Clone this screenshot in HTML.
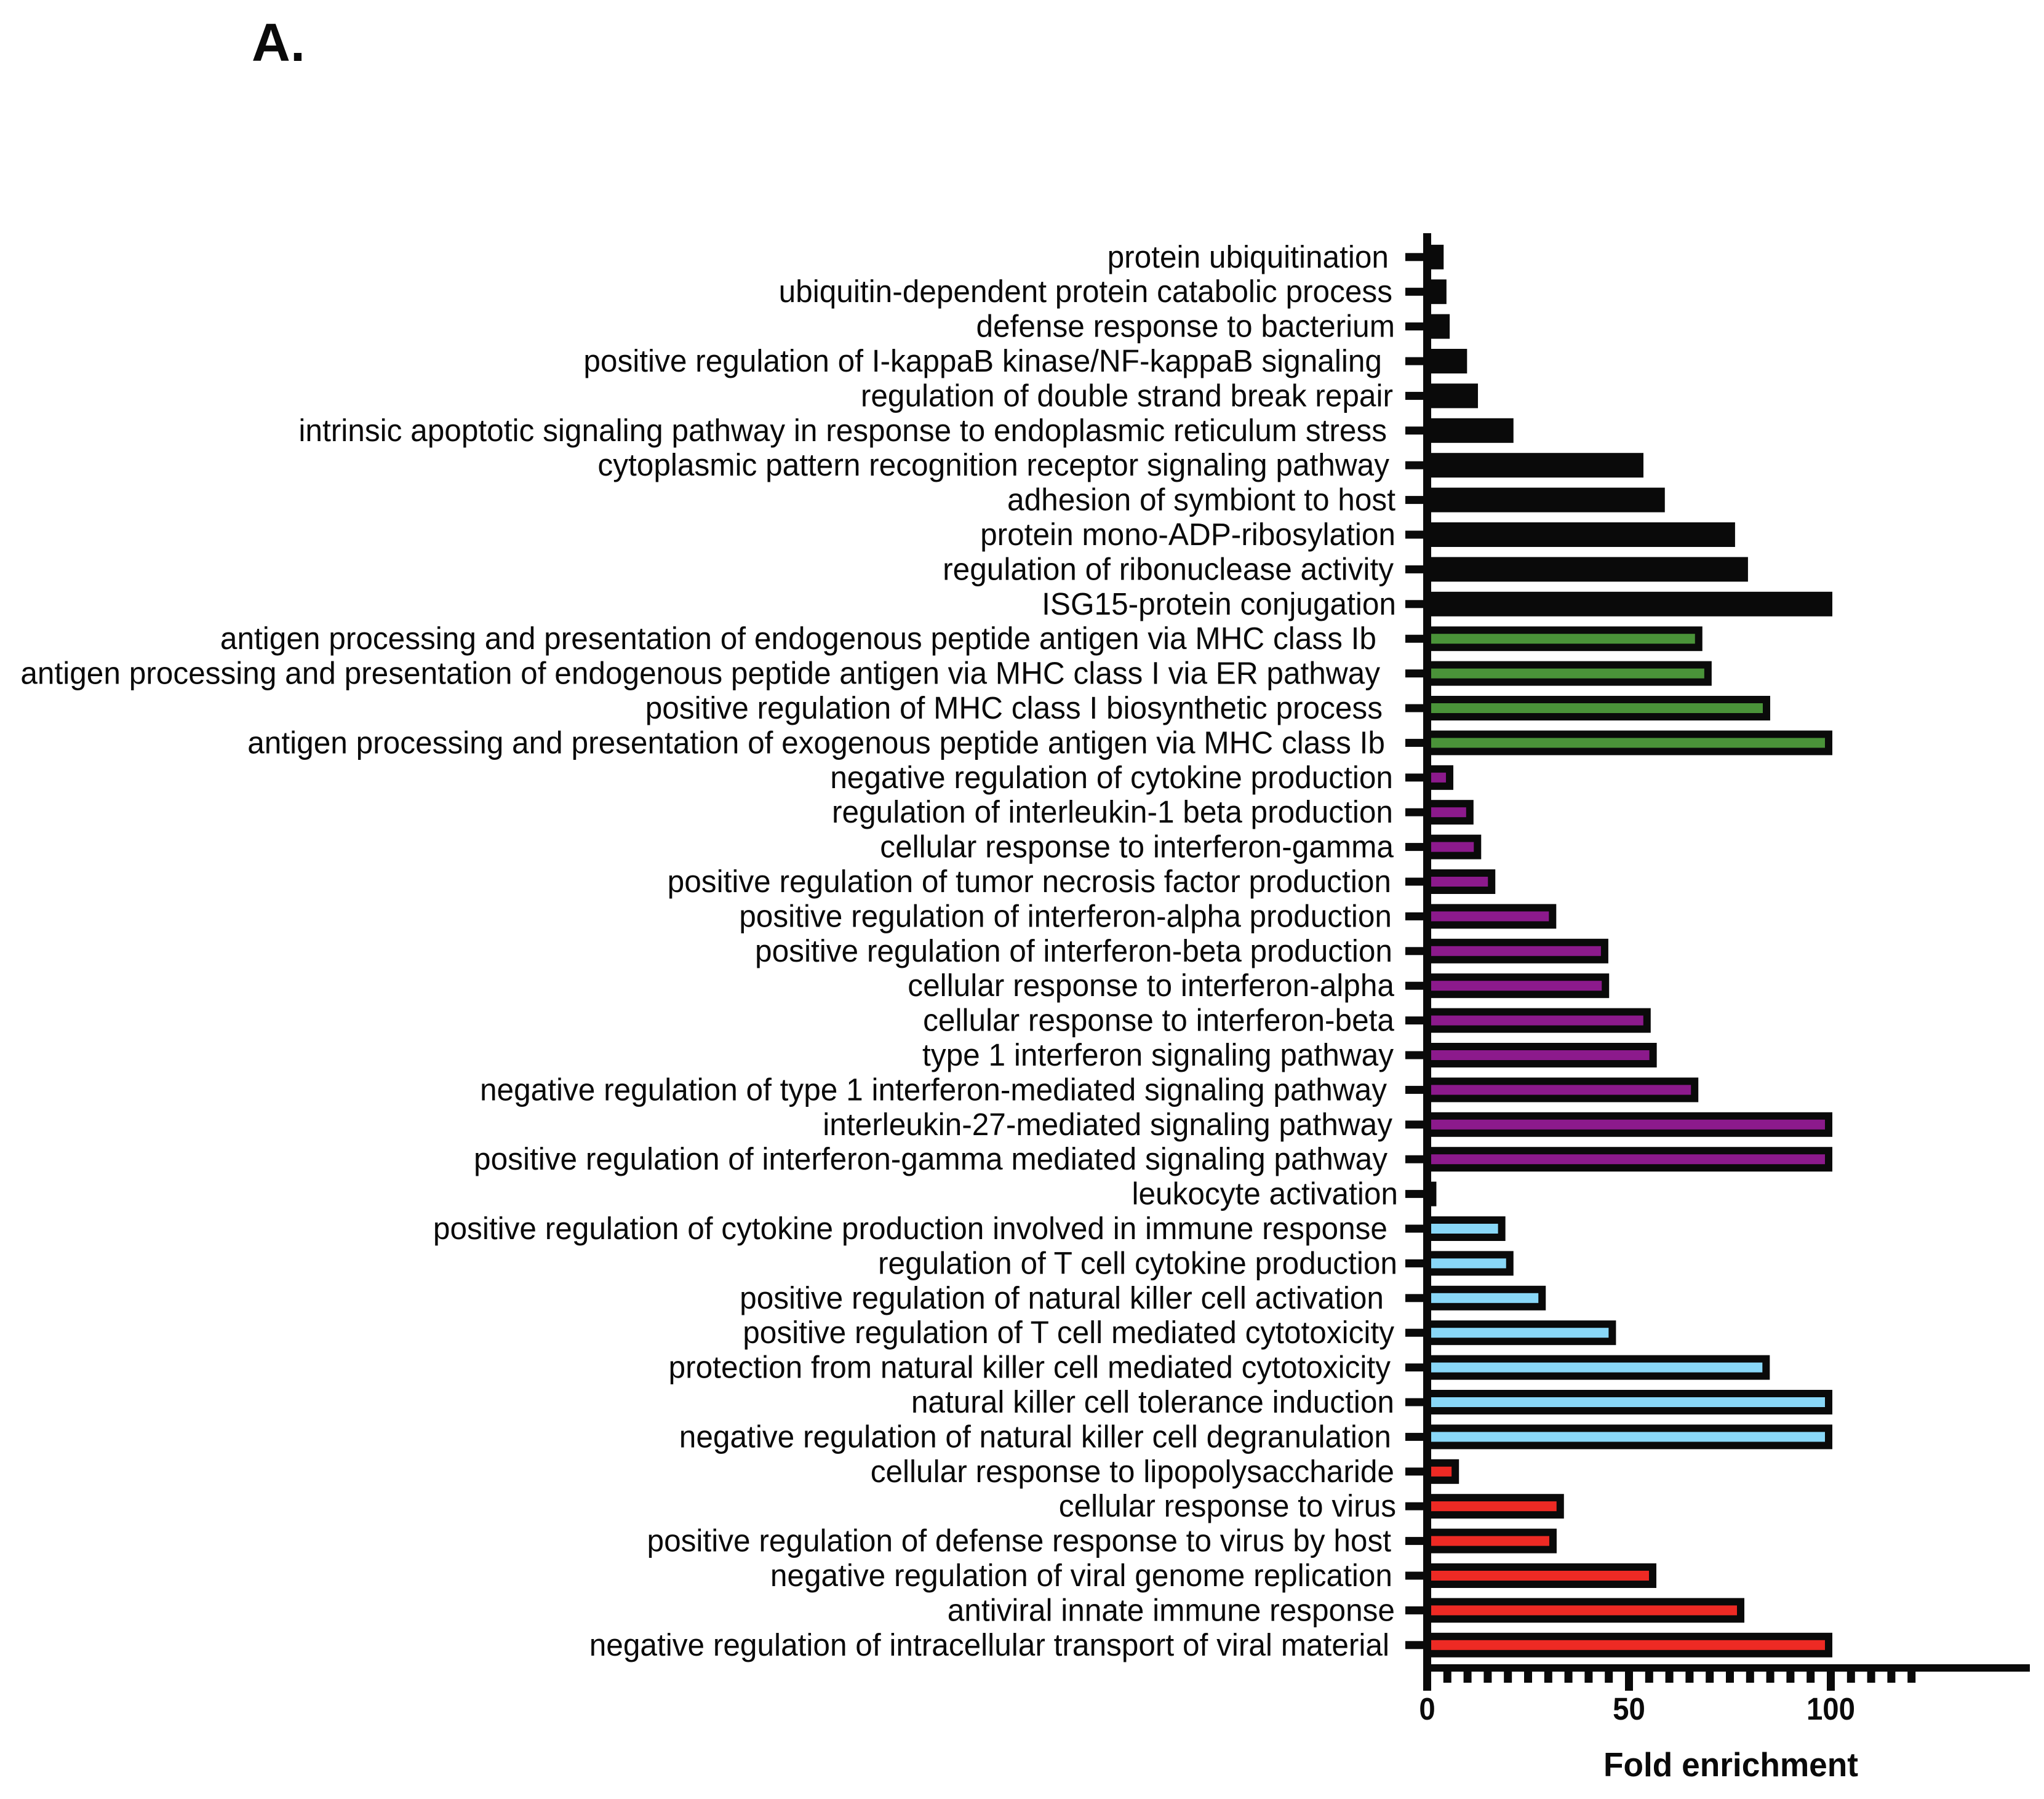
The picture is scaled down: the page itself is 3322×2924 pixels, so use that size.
<!DOCTYPE html>
<html lang="en">
<head>
<meta charset="utf-8">
<title>Fold enrichment of GO terms</title>
<style>
html,body{margin:0;padding:0;background:#fff;}
svg{display:block;}
text{font-family:"Liberation Sans",Arial,sans-serif;fill:#0a0a0a;}
</style>
</head>
<body>
<svg id="chart" xmlns="http://www.w3.org/2000/svg" width="3322" height="2924" viewBox="0 0 3322 2924">
<rect x="0" y="0" width="3322" height="2924" fill="#ffffff"/>
<text x="409" y="99" font-size="87" font-weight="700">A.</text>
<text x="2606" y="2887" font-size="55" font-weight="700" textLength="414" lengthAdjust="spacingAndGlyphs">Fold enrichment</text>
<g id="bars"></g>
<g id="axes"></g>
<g id="labels"></g>
</svg>
<script>
const categories = [
"protein ubiquitination",
"ubiquitin-dependent protein catabolic process",
"defense response to bacterium",
"positive regulation of I-kappaB kinase/NF-kappaB signaling",
"regulation of double strand break repair",
"intrinsic apoptotic signaling pathway in response to endoplasmic reticulum stress",
"cytoplasmic pattern recognition receptor signaling pathway",
"adhesion of symbiont to host",
"protein mono-ADP-ribosylation",
"regulation of ribonuclease activity",
"ISG15-protein conjugation",
"antigen processing and presentation of endogenous peptide antigen via MHC class Ib",
"antigen processing and presentation of endogenous peptide antigen via MHC class I via ER pathway",
"positive regulation of MHC class I biosynthetic process",
"antigen processing and presentation of exogenous peptide antigen via MHC class Ib",
"negative regulation of cytokine production",
"regulation of interleukin-1 beta production",
"cellular response to interferon-gamma",
"positive regulation of tumor necrosis factor production",
"positive regulation of interferon-alpha production",
"positive regulation of interferon-beta production",
"cellular response to interferon-alpha",
"cellular response to interferon-beta",
"type 1 interferon signaling pathway",
"negative regulation of type 1 interferon-mediated signaling pathway",
"interleukin-27-mediated signaling pathway",
"positive regulation of interferon-gamma mediated signaling pathway",
"leukocyte activation",
"positive regulation of cytokine production involved in immune response",
"regulation of T cell cytokine production",
"positive regulation of natural killer cell activation",
"positive regulation of T cell mediated cytotoxicity",
"protection from natural killer cell mediated cytotoxicity",
"natural killer cell tolerance induction",
"negative regulation of natural killer cell degranulation",
"cellular response to lipopolysaccharide",
"cellular response to virus",
"positive regulation of defense response to virus by host",
"negative regulation of viral genome replication",
"antiviral innate immune response",
"negative regulation of intracellular transport of viral material"
];
const foldEnrichment = [
3.7,4.4,5.2,9.5,12.2,21,53.2,58.5,75.9,79.1,100,
67.8,70.1,84.6,100,
6.1,11.1,13,16.5,31.6,44.5,44.7,55,56.5,66.8,100,100,
1.9,
19,21,29,46.4,84.5,100,100,
7.5,33.5,31.7,56.4,78.2,100
];
const groups = [
"black","black","black","black","black","black","black","black","black","black","black",
"green","green","green","green",
"purple","purple","purple","purple","purple","purple","purple","purple","purple","purple","purple","purple",
"black",
"blue","blue","blue","blue","blue","blue","blue",
"red","red","red","red","red","red"
];
const majorTicks = [0,50,100];
const minorTicks = [5,10,15,20,25,30,35,40,45,55,60,65,70,75,80,85,90,95,105,110,115,120];

/* Layout only: the reference's hand-placed label text ends are not aligned, so each
   label gets its own right-hand text anchor. */
const labelAnchors = [
2257,2263,2267,2246,2264,2254,2258,2268,2268,2265,2269,
2237,2243,2247,2251,
2264,2264,2265,2261,2262,2263,2266,2266,2265,2254,2263,2255,
2272,
2255,2271,2249,2266,2260,2266,2261,
2266,2269,2261,2263,2267,2258
];

const INK = "#0a0a0a";
const fills = {black:INK, green:"#4a9339", purple:"#8c1a8c", blue:"#89d7f7", red:"#ee2a24"};
const NS = "http://www.w3.org/2000/svg";
const xScale = v => 2319.5 + 6.56 * v;
const yScale = i => 417.8 + 56.4 * i;

function mk(parent, tag, attrs){
  const el = document.createElementNS(NS, tag);
  for (const k in attrs) el.setAttribute(k, attrs[k]);
  parent.appendChild(el);
  return el;
}

const barsG = document.getElementById("bars");
const axesG = document.getElementById("axes");
const labelsG = document.getElementById("labels");

categories.forEach((label, i) => {
  const cy = yScale(i);
  const right = xScale(foldEnrichment[i]) + 2.5;
  const outer = mk(barsG, "rect", {x:2326, y:cy-20, width:Math.max(0,right-2326), height:40, fill:INK});
  
  
  if (groups[i] !== "black") {
    const inner = mk(barsG, "rect", {x:2326, y:cy-8, width:Math.max(0,right-12-2326), height:16, fill:fills[groups[i]]});
    
    
  }
  const tick = mk(axesG, "rect", {x:2284, y:cy-6.5, width:30, height:13, fill:INK});
  
  
  const t = mk(labelsG, "text", {transform:`translate(${labelAnchors[i]},${cy+17}) scale(0.972,1)`, "text-anchor":"end", "font-size":51});
  
  
  t.textContent = label;
});

const yAxis = mk(axesG, "rect", {x:2313, y:379, width:13, height:2369, fill:INK});


const xAxis = mk(axesG, "rect", {x:2313, y:2705, width:986, height:12, fill:INK});



minorTicks.forEach(v => {
  const m = mk(axesG, "rect", {x:xScale(v)-6.5, y:2717, width:13, height:18, fill:INK});
  
  
});
majorTicks.forEach(v => {
  const M = mk(axesG, "rect", {x:xScale(v)-6.5, y:2717, width:13, height:31, fill:INK});
  
  
  const lab = mk(axesG, "text", {transform:`translate(${xScale(v)},2795) scale(0.93,1)`, "text-anchor":"middle", "font-size":51, "font-weight":700});
  
  
  lab.textContent = String(v);
});
</script>
</body>
</html>
